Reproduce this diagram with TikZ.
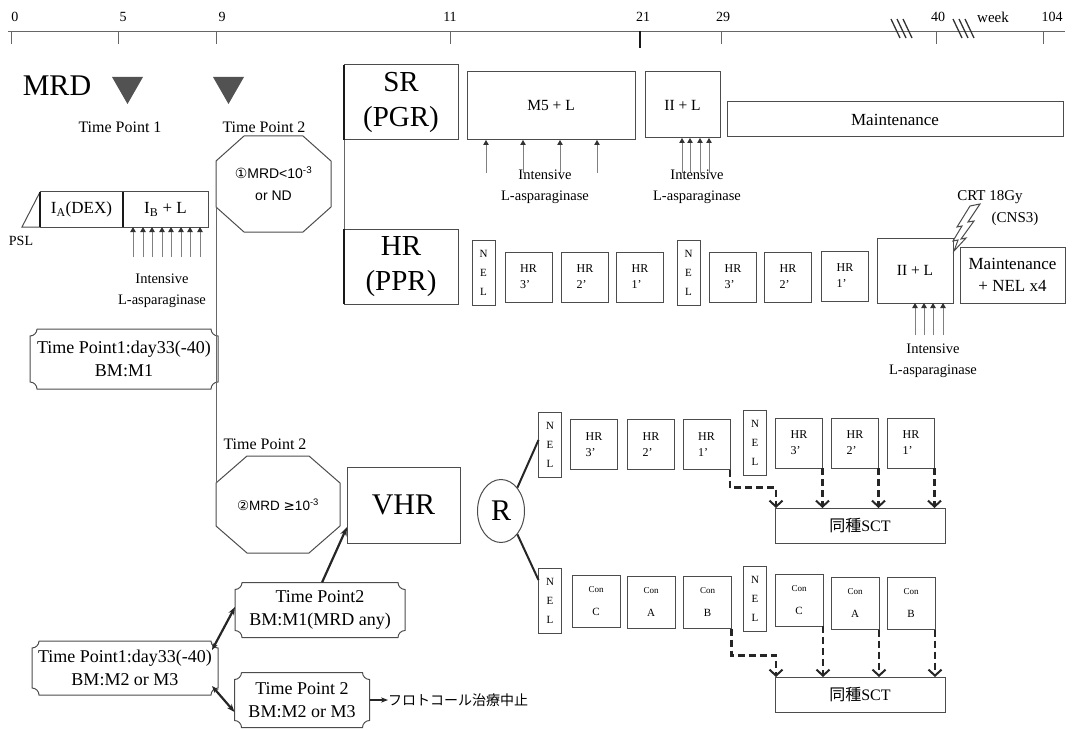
\documentclass[tikz,border=0pt]{standalone}
\usepackage{fontspec}
\setmainfont{Liberation Serif}
\newfontfamily\sansf{Liberation Sans}
\newfontfamily\djv{DejaVu Sans}
\newfontfamily\jpf{Noto Sans CJK JP}
\usetikzlibrary{arrows.meta,calc,shapes.geometric}
\newcommand\octo[3]{%
 \draw[octl] ([xshift=#2]#1.north west) -- ([xshift=-#2]#1.north east) -- ([yshift=-#3]#1.north east) -- ([yshift=#3]#1.south east) -- ([xshift=-#2]#1.south east) -- ([xshift=#2]#1.south west) -- ([yshift=#3]#1.south west) -- ([yshift=-#3]#1.north west) -- cycle;}
\newcommand\plaque[1]{%
 \draw[octl] ([xshift=7pt]#1.north west) -- ([xshift=-7pt]#1.north east)
  .. controls ([xshift=-7pt,yshift=-3.8pt]#1.north east) and ([xshift=-3.8pt,yshift=-7pt]#1.north east) .. ([yshift=-7pt]#1.north east)
  -- ([yshift=7pt]#1.south east)
  .. controls ([xshift=-3.8pt,yshift=7pt]#1.south east) and ([xshift=-7pt,yshift=3.8pt]#1.south east) .. ([xshift=-7pt]#1.south east)
  -- ([xshift=7pt]#1.south west)
  .. controls ([xshift=7pt,yshift=3.8pt]#1.south west) and ([xshift=3.8pt,yshift=7pt]#1.south west) .. ([yshift=7pt]#1.south west)
  -- ([yshift=-7pt]#1.north west)
  .. controls ([xshift=3.8pt,yshift=-7pt]#1.north west) and ([xshift=7pt,yshift=-3.8pt]#1.north west) .. ([xshift=7pt]#1.north west);}
\tikzset{
 bx/.style={draw=black!70, line width=1pt, inner sep=0pt, outer sep=0pt, align=center},
 octl/.style={draw=black!70, line width=1pt},
 nobox/.style={inner sep=0pt, outer sep=0pt, align=center},
 lbl/.style={inner sep=0pt, align=center, font=\fontsize{16}{19}\selectfont},
 asp/.style={draw=black!50, line width=0.8pt, -{Triangle[length=5pt,width=5.5pt,black!80]}},
 dsh/.style={draw=black!85, line width=2.6pt, dash pattern=on 7pt off 4pt, -{Straight Barb[length=6pt,width=13pt,line width=2pt]}},
 conn/.style={draw=black!85, line width=2.2pt},
 tline/.style={draw=black!60, line width=0.9pt},
 tk/.style={inner sep=0pt, font=\fontsize{14}{14}\selectfont},
 tri/.style={fill=black!68},
 hrb/.style={bx, minimum width=47pt, minimum height=50pt, align=left, font=\fontsize{12}{16}\selectfont},
 conb/.style={bx, minimum width=48pt, minimum height=52pt, font=\fontsize{11}{23}\selectfont},
 nelb/.style={bx, minimum width=23pt, minimum height=65pt, font=\fontsize{11}{19}\selectfont},
 bigtx/.style={font=\fontsize{29}{35}\selectfont},
 asptx/.style={inner sep=0pt, align=center, font=\fontsize{14.5}{21}\selectfont},
 plq/.style={nobox, font=\fontsize{18}{23}\selectfont},
 bold edge/.style={draw=black!90, line width=2.4pt},
}
\begin{document}
\begin{tikzpicture}[x=1pt,y=-1pt]
\useasboundingbox (0,0) rectangle (1086,730);
% ---------- timeline ----------
\draw[tline] (8,31) -- (1065,31);
\foreach \x in {11,118,216,450,721,936,1043} \draw[tline] (\x,31) -- (\x,44);
\draw[bold edge, line width=2pt] (640,31) -- (640,48);
\foreach \x in {891,897,903,953,959,965} \draw[black!80, line width=1.3pt] (\x,19) -- (\x+9,38);
\node[tk] (l0) at (15,17) {0};
\node[tk] (l5) at (123,17) {5};
\node[tk] (l9) at (222,17) {9};
\node[tk] (l11) at (450,17) {11};
\node[tk] (l21) at (643,17) {21};
\node[tk] (l29) at (723,17) {29};
\node[tk] (l40) at (938,17) {40};
\node[tk, font=\fontsize{15}{15}\selectfont] (lwk) at (993,17) {week};
\node[tk] (l104) at (1052,17) {104};
% ---------- MRD ----------
\node[nobox, font=\fontsize{30}{30}\selectfont] (mrd) at (57,86) {MRD};
\fill[tri] (112,77) -- (143,77) -- (127.5,104) -- cycle;
\fill[tri] (213,77) -- (244,77) -- (228.5,104) -- cycle;
\node[lbl] (tp1l) at (120,127) {Time Point 1};
\node[lbl] (tp2l) at (264,127) {Time Point 2};
\node[nobox, minimum width=115pt, minimum height=96pt, font=\sansf\fontsize{14}{22}\selectfont] (oct1) at (273.5,184) {{\djv ①}MRD<10\textsuperscript{-3}\\or ND};
\octo{oct1}{28pt}{25pt}
% ---------- induction ----------
\node[bx, minimum width=83pt, minimum height=35pt, font=\fontsize{17}{17}\selectfont] (ia) at (81.5,209.5) {I\textsubscript{A}(DEX)};
\node[bx, minimum width=85pt, minimum height=35pt, font=\fontsize{17}{17}\selectfont] (ib) at (165.5,209.5) {I\textsubscript{B} + L};
\draw[octl] (ia.south west) -- ([xshift=-18pt]ia.south west) -- (ia.north west);
\draw[bold edge] (ia.north west) -- (ia.south west);
\draw[bold edge] (ia.north east) -- (ia.south east);
\node[nobox, font=\fontsize{14}{14}\selectfont] (psl) at (21,241) {PSL};
\foreach \d in {10,20,29,39,48,58,67,77} \draw[asp] ([xshift=\d pt,yshift=-30pt]ib.south west) -- ([xshift=\d pt]ib.south west);
\node[asptx] (asp0) at (162,291) {Intensive\\L-asparaginase};
\node[plq, minimum width=188pt, minimum height=60pt] (tp1a) at (124,359) {Time Point1:day33(-40)\\BM:M1};
\plaque{tp1a}
% ---------- Time point 2 (VHR) ----------
\node[lbl] (tp2l2) at (265,444) {Time Point 2};
\node[nobox, minimum width=124pt, minimum height=97pt, font=\sansf\fontsize{13.5}{20}\selectfont] (oct2) at (278,504.5) {{\djv ②}MRD {\djv ≥}10\textsuperscript{-3}};
\octo{oct2}{31pt}{27pt}
\draw[tline] ([yshift=25pt]oct1.south west) -- ([yshift=-27pt]oct2.north west);
\node[bx, minimum width=113pt, minimum height=76pt, font=\fontsize{30}{30}\selectfont] (vhr) at (403.5,505) {VHR};
\node[draw=black!70, line width=1pt, ellipse, minimum width=47pt, minimum height=63pt, inner sep=0pt, font=\fontsize{30}{30}\selectfont] (r) at (501,511) {R};
% ---------- SR row ----------
\node[bx, bigtx, minimum width=114pt, minimum height=75pt] (sr) at (401,102.5) {SR\\(PGR)};
\draw[bold edge] (sr.north west) -- (sr.south west);
\node[bx, minimum width=168pt, minimum height=68pt, font=\fontsize{15.5}{15.5}\selectfont] (m5) at (551,106) {M5 + L};
\node[bx, minimum width=75pt, minimum height=66pt, font=\fontsize{15.5}{15.5}\selectfont] (iis) at (682.5,105) {II + L};
\node[bx, minimum width=336pt, minimum height=35pt, font=\fontsize{17}{17}\selectfont] (mains) at (895,119.5) {Maintenance};
\foreach \d in {19,56,93,130} \draw[asp] ([xshift=\d pt,yshift=-33pt]m5.south west) -- ([xshift=\d pt]m5.south west);
\foreach \d in {37,45,55,64} \draw[asp] ([xshift=\d pt,yshift=-35pt]iis.south west) -- ([xshift=\d pt]iis.south west);
\node[asptx] (asp1) at (545,187) {Intensive\\L-asparaginase};
\node[asptx] (asp2) at (697,187) {Intensive\\L-asparaginase};
% ---------- HR row ----------
\node[bx, bigtx, minimum width=114pt, minimum height=75pt] (hr) at (401,266.5) {HR\\(PPR)};
\draw[bold edge] (hr.north west) -- (hr.south west);
\draw[tline] (sr.south west) -- (hr.north west);
\node[nelb] (nelh1) at (483.5,272.5) {N\\E\\L};
\node[hrb] (hrh3) at (528.5,277) {HR\\3'};
\node[hrb] (hrh2) at (585,277) {HR\\2'};
\node[hrb] (hrh1) at (640,277) {HR\\1'};
\node[nelb] (nelh2) at (688.5,272.5) {N\\E\\L};
\node[hrb] (hrh3b) at (733,277) {HR\\3'};
\node[hrb] (hrh2b) at (788,277) {HR\\2'};
\node[hrb] (hrh1b) at (845,276) {HR\\1'};
\node[bx, minimum width=76pt, minimum height=65pt, font=\fontsize{15.5}{15.5}\selectfont] (iih) at (915,270.5) {II + L};
\node[bx, minimum width=105pt, minimum height=56pt, font=\fontsize{17}{22}\selectfont] (mainh) at (1012.5,275) {Maintenance\\+ NEL x4};
\foreach \d in {38,47,56,66} \draw[asp] ([xshift=\d pt,yshift=-32pt]iih.south west) -- ([xshift=\d pt]iih.south west);
\node[asptx] (asp3) at (933,361) {Intensive\\L-asparaginase};
\node[nobox, font=\fontsize{15}{15}\selectfont] (crt) at (990,197) {CRT 18Gy};
\node[nobox, font=\fontsize{15}{15}\selectfont] (cns) at (1015,219) {(CNS3)};
\draw[octl, fill=white] (980,204) -- (968,222) -- (974,221) -- (961,239) -- (966,238) -- (954,251) -- (958,240) -- (953,241) -- (962,226) -- (957,227) -- (970,206) -- cycle;
% ---------- VHR arm 1 ----------
\node[nelb] (nela1) at (550,445) {N\\E\\L};
\node[hrb] (hra3) at (594,444.5) {HR\\3'};
\node[hrb] (hra2) at (651,444.5) {HR\\2'};
\node[hrb] (hra1) at (706.5,444.5) {HR\\1'};
\node[nelb] (nela2) at (755,442.5) {N\\E\\L};
\node[hrb] (hra3b) at (799,443) {HR\\3'};
\node[hrb] (hra2b) at (855,443) {HR\\2'};
\node[hrb] (hra1b) at (911,443) {HR\\1'};
\node[bx, minimum width=170pt, minimum height=35pt, font=\fontsize{16}{16}\selectfont] (scta) at (860,525.5) {{\jpf 同種}SCT};
\draw[dsh] (hra1.south east) -- ++(0,18) -| ([xshift=1pt]scta.north west);
\foreach \n in {hra3b,hra2b,hra1b} \draw[dsh] (\n.south east) -- (\n.south east |- scta.north);
% ---------- VHR arm 2 ----------
\node[nelb] (nelb1) at (550,600.5) {N\\E\\L};
\node[conb] (conc) at (596,601) {{\fontsize{9}{23}\selectfont Con}\\C};
\node[conb] (cona) at (651,602.5) {{\fontsize{9}{23}\selectfont Con}\\A};
\node[conb] (conbx) at (707.5,602.5) {{\fontsize{9}{23}\selectfont Con}\\B};
\node[nelb] (nelb2) at (755,599) {N\\E\\L};
\node[conb] (concb) at (799,600) {{\fontsize{9}{23}\selectfont Con}\\C};
\node[conb] (conab) at (855,603.5) {{\fontsize{9}{23}\selectfont Con}\\A};
\node[conb] (conbb) at (911,603.5) {{\fontsize{9}{23}\selectfont Con}\\B};
\node[bx, minimum width=170pt, minimum height=35pt, font=\fontsize{16}{16}\selectfont] (sctb) at (860,694.5) {{\jpf 同種}SCT};
\draw[dsh] (conbx.south east) -- ++(0,27) -| ([xshift=1pt]sctb.north west);
\foreach \n in {concb,conab,conbb} \draw[dsh] (\n.south east) -- (\n.south east |- sctb.north);
\draw[conn, line width=2pt] (r.55) -- ([yshift=5pt]nela1.west);
\draw[conn, line width=2pt] (r.-55) -- ([yshift=-12pt]nelb1.north west);
% ---------- bottom left ----------
\node[plq, minimum width=186pt, minimum height=54pt] (tp1b) at (125,668) {Time Point1:day33(-40)\\BM:M2 or M3};
\plaque{tp1b}
\node[plq, minimum width=170pt, minimum height=55pt] (tp2a) at (320,610) {Time Point2\\BM:M1(MRD any)};
\plaque{tp2a}
\node[plq, minimum width=135pt, minimum height=55pt] (tp2b) at (302,700) {Time Point 2\\BM:M2 or M3};
\plaque{tp2b}
\node[nobox, anchor=west, font=\jpf\fontsize{14}{14}\selectfont] (proto) at (388,700) {フロトコール治療中止};
\draw[conn, {Stealth[length=7pt]}-{Stealth[length=8pt]}] ([xshift=-6pt,yshift=-9pt]tp1b.north east) -- ([yshift=3pt]tp2a.west);
\draw[conn, {Stealth[length=7pt]}-{Stealth[length=8pt]}] ([xshift=-6pt,yshift=9pt]tp1b.south east) -- ([yshift=-12pt]tp2b.west);
\draw[conn, -{Stealth[length=9pt]}] ([xshift=2pt]tp2a.north) -- ([yshift=16pt]vhr.south west);
\draw[conn, -{Stealth[length=7pt]}] (tp2b.east) -- (proto.west);
\end{tikzpicture}
\end{document}
